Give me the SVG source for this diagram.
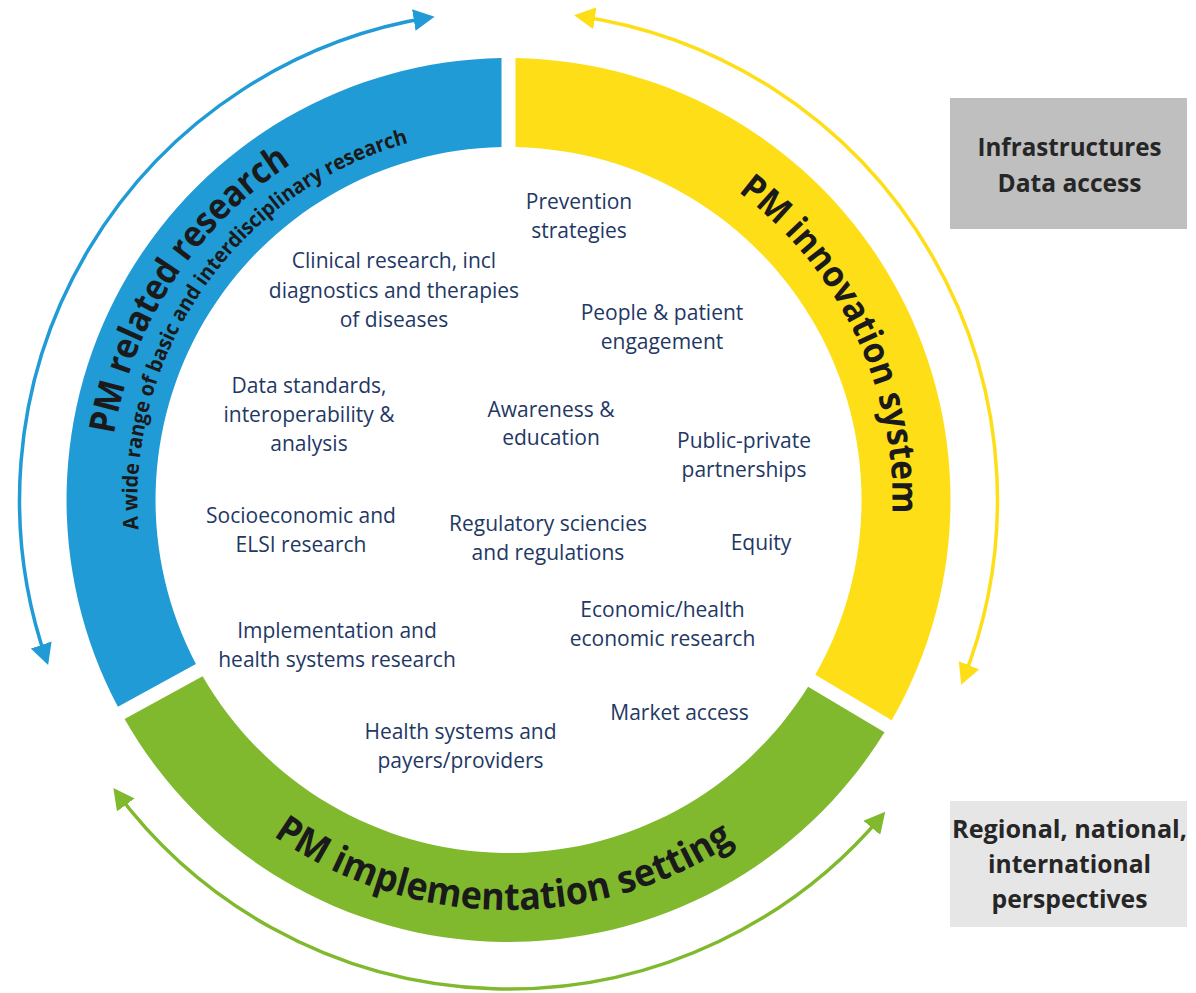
<svg xmlns="http://www.w3.org/2000/svg" width="1196" height="993" viewBox="0 0 1196 993">
<style>
.item{font-family:"Open Sans","Liberation Sans",sans-serif;font-size:21px;fill:#1f3864;text-anchor:middle}
.ringtxt{font-family:"Open Sans","Liberation Sans",sans-serif;font-weight:700;fill:#1a1a1a}
.boxtxt{font-family:"Open Sans","Liberation Sans",sans-serif;font-weight:700;font-size:25px;fill:#262626;text-anchor:middle}
.arc{fill:none;stroke-width:3.5}
</style>
<defs>
<marker id="mBlue" markerUnits="userSpaceOnUse" markerWidth="22" markerHeight="22" viewBox="0 0 22 22" refX="17" refY="11" orient="auto-start-reverse"><path d="M0,0 L21,11 L0,22 Z" fill="#219bd6"/></marker>
<marker id="mYellow" markerUnits="userSpaceOnUse" markerWidth="22" markerHeight="22" viewBox="0 0 22 22" refX="17" refY="11" orient="auto-start-reverse"><path d="M0,0 L21,11 L0,22 Z" fill="#fede17"/></marker>
<marker id="mGreen" markerUnits="userSpaceOnUse" markerWidth="22" markerHeight="22" viewBox="0 0 22 22" refX="17" refY="11" orient="auto-start-reverse"><path d="M0,0 L21,11 L0,22 Z" fill="#80b92e"/></marker>
<path id="pBlueBig" d="M151.3,680 A400,400 0 0 1 531.2,100.6"/>
<path id="pBlueSub" d="M172.5,657.4 A371,371 0 0 1 540.2,130.4"/>
<path id="pYellow" d="M537.6,117.1 A384,384 0 0 1 825.5,716.7"/>
<path id="pGreen" d="M150.6,700 A410,410 0 0 0 860.7,709.9"/>
</defs>
<rect x="0" y="0" width="1196" height="993" fill="#ffffff"/>

<g id="seg-research">
<path d="M117.9,706.8 A442,442 0 0 1 501.5,58.06 L501.5,147.07 A353,353 0 0 0 195.9,663.9 Z" fill="#219bd6"/>
<text class="ringtxt" font-size="36"><textPath href="#pBlueBig" startOffset="50%" text-anchor="middle" textLength="333" lengthAdjust="spacingAndGlyphs">PM related research</textPath></text>
<text class="ringtxt" font-size="21"><textPath href="#pBlueSub" startOffset="50%" text-anchor="middle" textLength="511" lengthAdjust="spacingAndGlyphs">A wide range of basic and interdisciplinary research</textPath></text>
</g>

<g id="seg-innovation">
<path d="M515.5,58.06 A442,442 0 0 1 891.7,720.3 L815.3,674.7 A353,353 0 0 0 515.5,147.07 Z" fill="#fede17"/>
<text class="ringtxt" font-size="36"><textPath href="#pYellow" startOffset="50%" text-anchor="middle" textLength="371" lengthAdjust="spacingAndGlyphs">PM innovation system</textPath></text>
</g>

<g id="seg-implementation">
<path d="M884.5,732.3 A442,442 0 0 1 124.6,719.1 L202.6,676.2 A353,353 0 0 0 808.1,686.7 Z" fill="#80b92e"/>
<text class="ringtxt" font-size="38"><textPath href="#pGreen" startOffset="50%" text-anchor="middle" textLength="490" lengthAdjust="spacingAndGlyphs">PM implementation setting</textPath></text>
</g>

<g id="connectors">
<path class="arc" stroke="#219bd6" d="M430.6,17.3 A489,489 0 0 0 46.8,661.1" marker-start="url(#mBlue)" marker-end="url(#mBlue)"/>
<path class="arc" stroke="#fede17" d="M578,15.9 A489,489 0 0 1 962.7,681" marker-start="url(#mYellow)" marker-end="url(#mYellow)"/>
<path class="arc" stroke="#80b92e" d="M115.7,791.3 A489,489 0 0 0 882.7,814.8" marker-start="url(#mGreen)" marker-end="url(#mGreen)"/>
</g>

<g id="item-prevention"><text class="item" x="579" y="209">Prevention</text><text class="item" x="579" y="238">strategies</text></g>
<g id="item-clinical"><text class="item" x="394" y="268">Clinical research, incl</text><text class="item" x="394" y="297.5">diagnostics and therapies</text><text class="item" x="394" y="327">of diseases</text></g>
<g id="item-people"><text class="item" x="662" y="320">People &amp; patient</text><text class="item" x="662" y="349">engagement</text></g>
<g id="item-data"><text class="item" x="309" y="393">Data standards,</text><text class="item" x="309" y="422">interoperability &amp;</text><text class="item" x="309" y="451">analysis</text></g>
<g id="item-awareness"><text class="item" x="551" y="416.5">Awareness &amp;</text><text class="item" x="551" y="445">education</text></g>
<g id="item-ppp"><text class="item" x="744" y="448">Public-private</text><text class="item" x="744" y="477">partnerships</text></g>
<g id="item-socio"><text class="item" x="301" y="523">Socioeconomic and</text><text class="item" x="301" y="552">ELSI research</text></g>
<g id="item-regulatory"><text class="item" x="548" y="531">Regulatory sciencies</text><text class="item" x="548" y="560">and regulations</text></g>
<g id="item-equity"><text class="item" x="761" y="550">Equity</text></g>
<g id="item-economic"><text class="item" x="662.5" y="617">Economic/health</text><text class="item" x="662.5" y="645.5">economic research</text></g>
<g id="item-implementation"><text class="item" x="337" y="638">Implementation and</text><text class="item" x="337" y="667">health systems research</text></g>
<g id="item-market"><text class="item" x="679.5" y="720">Market access</text></g>
<g id="item-health"><text class="item" x="460.5" y="739">Health systems and</text><text class="item" x="460.5" y="768">payers/providers</text></g>

<g id="box-infrastructures">
<rect x="950" y="98" width="237" height="131" fill="#bfbfbf"/>
<text class="boxtxt" x="1069.5" y="156" textLength="184" lengthAdjust="spacingAndGlyphs">Infrastructures</text>
<text class="boxtxt" x="1069.5" y="191.7" textLength="144" lengthAdjust="spacingAndGlyphs">Data access</text>
</g>
<g id="box-perspectives">
<rect x="950" y="801" width="237" height="126" fill="#e6e6e6"/>
<text class="boxtxt" x="1069.5" y="838" textLength="235" lengthAdjust="spacingAndGlyphs">Regional, national,</text>
<text class="boxtxt" x="1069.5" y="873" textLength="163" lengthAdjust="spacingAndGlyphs">international</text>
<text class="boxtxt" x="1069.5" y="908" textLength="156" lengthAdjust="spacingAndGlyphs">perspectives</text>
</g>
</svg>
